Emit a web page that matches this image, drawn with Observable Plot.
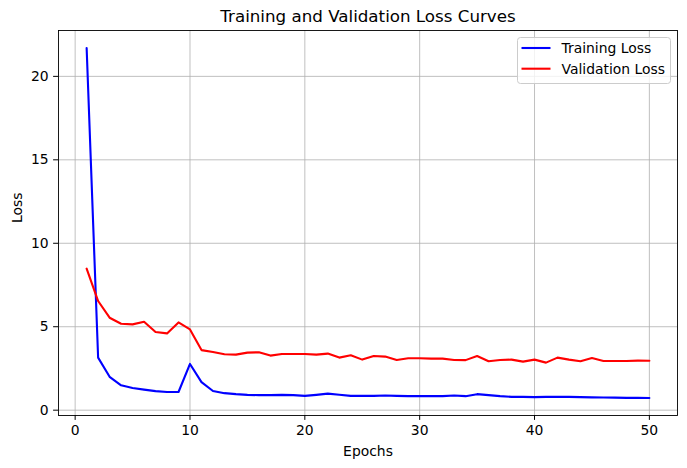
<!DOCTYPE html>
<html>
<head>
<meta charset="utf-8">
<script src="https://cdn.jsdelivr.net/npm/d3@7"></script>
<script src="https://cdn.jsdelivr.net/npm/@observablehq/plot@0.6"></script>
<style>
  html, body { margin: 0; padding: 0; background: #ffffff; }
  #chart { width: 687px; height: 468px; }
</style>
</head>
<body>
<div id="chart"></div>
<script>
// Loss per epoch for the training run
const epochs = d3.range(1, 51);
const trainingLoss = [
  21.7, 3.15, 2.0, 1.49, 1.33, 1.23, 1.14, 1.09, 1.09, 2.77,
  1.68, 1.15, 1.02, 0.96, 0.92, 0.90, 0.90, 0.92, 0.90, 0.86,
  0.92, 0.99, 0.92, 0.86, 0.86, 0.86, 0.88, 0.86, 0.84, 0.84,
  0.84, 0.84, 0.88, 0.84, 0.96, 0.90, 0.84, 0.80, 0.80, 0.78,
  0.80, 0.80, 0.80, 0.78, 0.77, 0.76, 0.75, 0.74, 0.74, 0.73
];
const validationLoss = [
  8.48, 6.54, 5.54, 5.18, 5.14, 5.30, 4.68, 4.60, 5.26, 4.84,
  3.60, 3.49, 3.35, 3.33, 3.45, 3.47, 3.27, 3.37, 3.37, 3.37,
  3.33, 3.39, 3.15, 3.29, 3.03, 3.25, 3.21, 3.01, 3.11, 3.11,
  3.09, 3.09, 3.01, 3.00, 3.25, 2.93, 3.01, 3.03, 2.91, 3.03,
  2.85, 3.15, 3.03, 2.93, 3.13, 2.95, 2.95, 2.95, 2.97, 2.96
];
const seriesNames = ["Training Loss", "Validation Loss"];
const seriesColors = ["#0000ff", "#ff0000"];
const xTicks = [0, 10, 20, 30, 40, 50];
const yTicks = [0, 5, 10, 15, 20];

const rows = [];
epochs.forEach((e, i) => {
  rows.push({epoch: e, loss: trainingLoss[i], series: seriesNames[0]});
  rows.push({epoch: e, loss: validationLoss[i], series: seriesNames[1]});
});

// 5% padding on both axes around the data extent
function padded([lo, hi]) {
  const m = (hi - lo) * 0.05;
  return [lo - m, hi + m];
}
const xDomain = padded(d3.extent(epochs));
const yDomain = padded(d3.extent(trainingLoss.concat(validationLoss)));

const font = "DejaVu Sans, sans-serif";
const tickFont = 13.9;

const chart = Plot.plot({
  width: 687,
  height: 468,
  marginTop: 30,
  marginRight: 10,
  marginBottom: 53,
  marginLeft: 58,
  style: {fontFamily: font, fontSize: tickFont + "px", color: "#000", background: "#fff"},
  x: {domain: xDomain},
  y: {domain: yDomain},
  marks: [
    Plot.gridX(xTicks, {stroke: "#b0b0b0", strokeOpacity: 1, strokeWidth: 0.8}),
    Plot.gridY(yTicks, {stroke: "#b0b0b0", strokeOpacity: 1, strokeWidth: 0.8}),
    Plot.line(rows.filter(d => d.series === seriesNames[0]), {
      x: "epoch", y: "loss", stroke: seriesColors[0], strokeWidth: 2.1
    }),
    Plot.line(rows.filter(d => d.series === seriesNames[1]), {
      x: "epoch", y: "loss", stroke: seriesColors[1], strokeWidth: 2.1
    }),
    Plot.frame({stroke: "#000", strokeWidth: 0.9}),
    Plot.axisX(xTicks, {
      tickSize: 4.9, tickPadding: 4.9, fontSize: tickFont, label: null, stroke: "#000"
    }),
    Plot.axisY(yTicks, {
      tickSize: 4.9, tickPadding: 4.9, fontSize: tickFont, label: null, stroke: "#000"
    }),
    Plot.text(["Training and Validation Loss Curves"], {
      frameAnchor: "top", lineAnchor: "middle", dy: -14, fontSize: 16.7, fill: "#000"
    }),
    Plot.text(["Epochs"], {
      frameAnchor: "bottom", lineAnchor: "middle", dy: 36, fontSize: tickFont, fill: "#000"
    }),
    Plot.text(["Loss"], {
      frameAnchor: "left", lineAnchor: "middle", dx: -41, rotate: -90, fontSize: tickFont, fill: "#000"
    })
  ]
});

// Legend box in the upper-right corner of the axes
const svg = d3.select(chart);
const lg = svg.append("g").attr("transform", "translate(517.5,37.5)");
lg.append("rect")
  .attr("width", 153).attr("height", 46).attr("rx", 3)
  .attr("fill", "#fff").attr("fill-opacity", 0.8)
  .attr("stroke", "#cccccc").attr("stroke-width", 1);
seriesNames.forEach((name, i) => {
  const y = 10.5 + i * 20.7;
  lg.append("line")
    .attr("x1", 4).attr("x2", 33).attr("y1", y).attr("y2", y)
    .attr("stroke", seriesColors[i]).attr("stroke-width", 2.1);
  lg.append("text")
    .attr("x", 44).attr("y", y).attr("dy", "0.35em")
    .attr("text-anchor", "start")
    .attr("font-family", font).attr("font-size", tickFont)
    .attr("fill", "#000").text(name);
});

document.getElementById("chart").appendChild(chart);
</script>
</body>
</html>
